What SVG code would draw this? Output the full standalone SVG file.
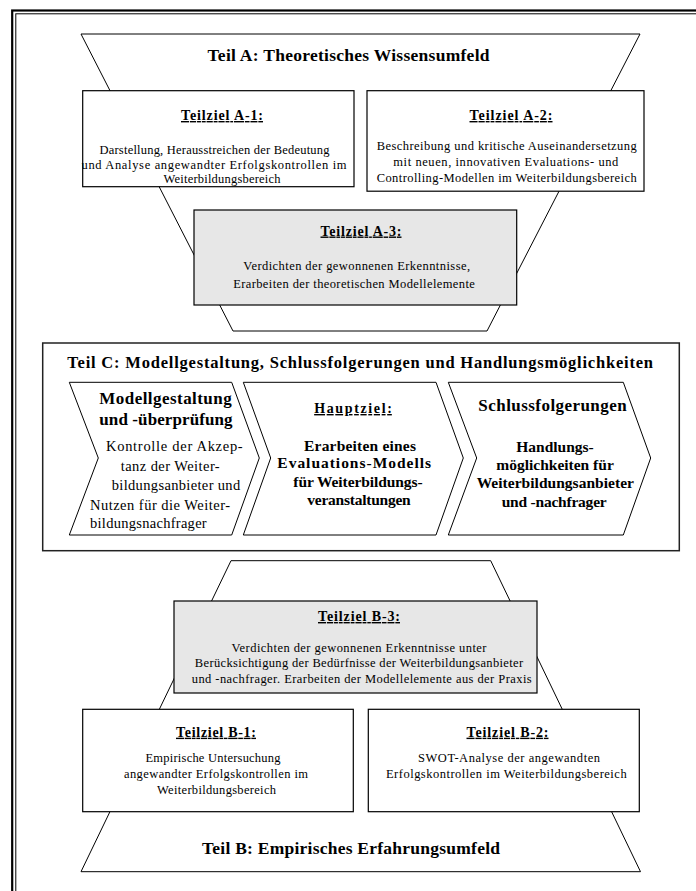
<svg xmlns="http://www.w3.org/2000/svg" width="696" height="891" viewBox="0 0 696 891">
<style>
text { font-family: 'Liberation Serif', 'Times New Roman', serif; fill: #000; }
.b { font-weight: bold; }
.u { text-decoration: underline; }
.m { text-anchor: middle; }
.h { font-size: 14px; }
.body { font-size: 12.5px; }
.cb { font-size: 14.5px; }
.cbb { font-size: 15.5px; font-weight: bold; }
.ch { font-size: 17px; font-weight: bold; }
.title { font-size: 17.5px; font-weight: bold; }
.box { fill: #fff; stroke: #000; stroke-width: 1.2; }
.gray { fill: #e7e7e7; }
.trap { fill: #fff; stroke: #000; stroke-width: 1; }
.chev { fill: #fff; stroke: #000; stroke-width: 1; }
</style>
<rect width="696" height="891" fill="#fff"/>
<g id="frame" fill="none" stroke="#000">
  <rect x="12.2" y="10.5" width="700" height="900" stroke-width="2.2"/>
  <rect x="15.8" y="13.8" width="700" height="900" stroke-width="1"/>
</g>
<g id="teil-a">
  <polygon class="trap" points="81,34 640,34 487,331 233,331"/>
  <text class="title m" x="348.5" y="61" textLength="282">Teil A: Theoretisches Wissensumfeld</text>
</g>
<g id="teilziel-a1">
  <rect class="box" x="82.7" y="90.7" width="271.3" height="96"/>
  <text class="h b u m" x="222" y="120" textLength="82">Teilziel A-1:</text>
  <text class="body m" x="214.5" y="154" textLength="230">Darstellung, Herausstreichen der Bedeutung</text>
  <text class="body m" x="214" y="168.5" textLength="265">und Analyse angewandter Erfolgskontrollen im</text>
  <text class="body m" x="222" y="183" textLength="117">Weiterbildungsbereich</text>
</g>
<g id="teilziel-a2">
  <rect class="box" x="367" y="90.7" width="277" height="100.5"/>
  <text class="h b u m" x="511" y="120" textLength="83">Teilziel A-2:</text>
  <text class="body m" x="506.7" y="149.5" textLength="260">Beschreibung und kritische Auseinandersetzung</text>
  <text class="body m" x="505.8" y="165.5" textLength="225">mit neuen, innovativen Evaluations- und</text>
  <text class="body m" x="506.7" y="181.5" textLength="260">Controlling-Modellen im Weiterbildungsbereich</text>
</g>
<g id="teilziel-a3">
  <rect class="box gray" x="194" y="210" width="322.7" height="95"/>
  <text class="h b u m" x="361" y="235.5" textLength="81">Teilziel A-3:</text>
  <text class="body m" x="356.7" y="270" textLength="226.7">Verdichten der gewonnenen Erkenntnisse,</text>
  <text class="body m" x="354" y="288" textLength="241.7">Erarbeiten der theoretischen Modellelemente</text>
</g>
<g id="teil-c">
  <rect x="42.7" y="343" width="636.6" height="207.7" fill="#fff" stroke="#222" stroke-width="1.5"/>
  <text class="title" x="67.3" y="368.3" textLength="585.7" style="font-size:16.5px">Teil C: Modellgestaltung, Schlussfolgerungen und Handlungsmöglichkeiten</text>
</g>
<g id="modellgestaltung">
  <polygon class="chev" points="69.3,382.3 231.7,382.3 259.3,458 231.7,535 69.3,535 98.3,458"/>
  <text class="ch" x="99.3" y="404" textLength="132.4">Modellgestaltung</text>
  <text class="ch" x="99.3" y="424.5" textLength="133.3">und -überprüfung</text>
  <text class="cb" x="106" y="450.7" textLength="136.7">Kontrolle der Akzep-</text>
  <text class="cb" x="120.7" y="471" textLength="99">tanz der Weiter-</text>
  <text class="cb" x="111.7" y="489.5" textLength="128.5">bildungsanbieter und</text>
  <text class="cb" x="90" y="510" textLength="140">Nutzen für die Weiter-</text>
  <text class="cb" x="90" y="527.5" textLength="116.7">bildungsnachfrager</text>
</g>
<g id="hauptziel">
  <polygon class="chev gray" points="243.3,382.3 436,382.3 463.3,458 436,535 243.3,535 270.7,458"/>
  <text class="cbb u m" x="353" y="413" textLength="77.7" style="font-size:14px">Hauptziel:</text>
  <text class="cbb m" x="360" y="450.7" textLength="112">Erarbeiten eines</text>
  <text class="cbb m" x="354.2" y="468.3" textLength="153.7">Evaluations-Modells</text>
  <text class="cbb m" x="358" y="486.7" textLength="129.3">für Weiterbildungs-</text>
  <text class="cbb m" x="359" y="505" textLength="103.3">veranstaltungen</text>
</g>
<g id="schlussfolgerungen">
  <polygon class="chev" points="448.3,382.3 623.3,382.3 650.7,458 623.3,535 448.3,535 476.7,458"/>
  <text class="ch m" x="552.5" y="411" textLength="148.3">Schlussfolgerungen</text>
  <text class="cbb m" x="555" y="451.7">Handlungs-</text>
  <text class="cbb m" x="555" y="470">möglichkeiten für</text>
  <text class="cbb m" x="555.3" y="488.3" textLength="157.3">Weiterbildungsanbieter</text>
  <text class="cbb m" x="554.2" y="506.7" textLength="105">und -nachfrager</text>
</g>
<g id="teil-b">
  <polygon class="trap" points="231,560.7 490.7,560.7 640.5,871.7 81,871.7"/>
  <text class="title m" x="351" y="854" textLength="298">Teil B: Empirisches Erfahrungsumfeld</text>
</g>
<g id="teilziel-b3">
  <rect class="box gray" x="174" y="601" width="363" height="92"/>
  <text class="h b u m" x="359" y="621" textLength="82">Teilziel B-3:</text>
  <text class="body m" x="359" y="652" textLength="255">Verdichten der gewonnenen Erkenntnisse unter</text>
  <text class="body m" x="359" y="667" textLength="328.3">Berücksichtigung der Bedürfnisse der Weiterbildungsanbieter</text>
  <text class="body m" x="361.7" y="683" textLength="340">und -nachfrager. Erarbeiten der Modellelemente aus der Praxis</text>
</g>
<g id="teilziel-b1">
  <rect class="box" x="82.7" y="709.3" width="270.6" height="102.4"/>
  <text class="h b u m" x="216" y="736.7" textLength="80">Teilziel B-1:</text>
  <text class="body m" x="213" y="762" textLength="135">Empirische Untersuchung</text>
  <text class="body m" x="216" y="778" textLength="184">angewandter Erfolgskontrollen im</text>
  <text class="body m" x="216.5" y="794" textLength="119">Weiterbildungsbereich</text>
</g>
<g id="teilziel-b2">
  <rect class="box" x="368.3" y="709.3" width="271" height="102.4"/>
  <text class="h b u m" x="507.5" y="736.7" textLength="82">Teilziel B-2:</text>
  <text class="body m" x="509" y="762" textLength="182">SWOT-Analyse der angewandten</text>
  <text class="body m" x="506.3" y="778" textLength="240.7">Erfolgskontrollen im Weiterbildungsbereich</text>
</g>
</svg>
